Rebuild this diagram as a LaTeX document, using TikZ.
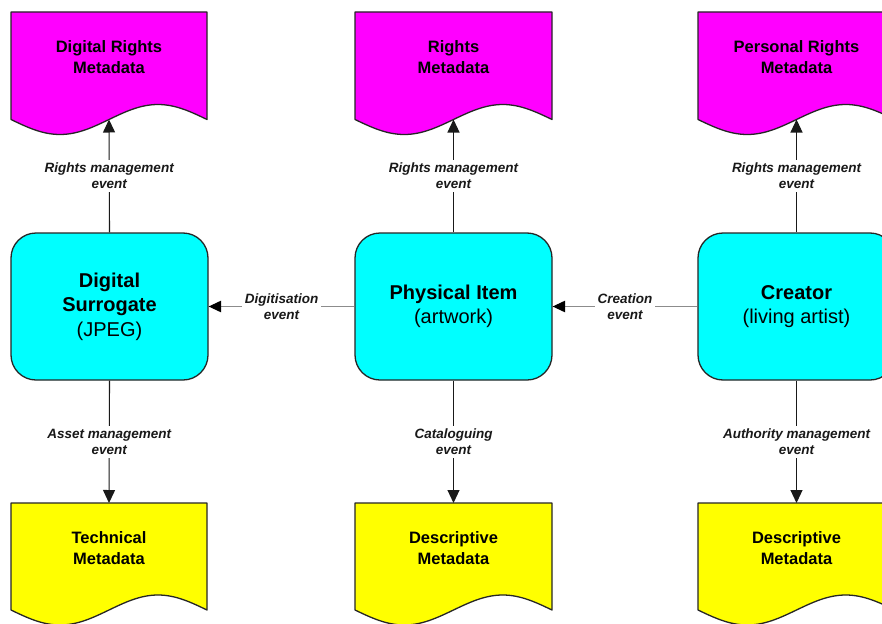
\documentclass[tikz,border=0pt]{standalone}
\usepackage{fontspec}
\setmainfont{Liberation Sans}
\usetikzlibrary{arrows.meta}
\definecolor{mag}{HTML}{FF00FF}
\definecolor{cyn}{HTML}{00FFFF}
\definecolor{yel}{HTML}{FFFF00}
\tikzset{
  docline/.style={draw=black!85, line width=1.3pt, line join=round},
  doctext/.style={font=\bfseries\fontsize{16.5}{21}\selectfont, align=center, text=black},
  cbox/.style={draw=black!85, line width=1.3pt, fill=cyn, rounded corners=25pt,
    minimum width=197pt, minimum height=147pt, align=center,
    font=\fontsize{20}{24.5}\selectfont, text=black},
  conn/.style={draw=black!90, line width=1.1pt, -{Triangle[length=13pt,width=12pt]}},
  hconn/.style={draw=black!45, line width=1.1pt, -{Triangle[length=12.5pt,width=11.5pt,color=black]}},
  lbl/.style={font=\bfseries\itshape\fontsize{13.5}{16}\selectfont, fill=white, inner sep=3pt,
    align=center, text=black!90},
}
% #1 x0, #2 width, #3 top, #4 wave base, #5 fill, #6 name
\newcommand{\docshape}[6]{%
  \filldraw[docline, fill=#5] (#1,#3) -- ({#1+0.5*#2},#3) coordinate (#6top) -- ({#1+#2},#3)
    -- ({#1+#2},#4) sin ({#1+0.75*#2},{#4-15}) cos ({#1+0.5*#2},#4) coordinate (#6)
    sin ({#1+0.25*#2},{#4+15}) cos (#1,#4) -- cycle;
}
\begin{document}
\begin{tikzpicture}[x=1pt,y=-1pt]
\useasboundingbox (0,0) rectangle (882,623);
\clip (0,0) rectangle (882,623);
\fill[white] (0,0) rectangle (882,623);

% top magenta documents
\docshape{11}{196}{12}{119.5}{mag}{mL}
\docshape{355}{197}{12}{119.5}{mag}{mM}
\docshape{698}{197}{12}{119.5}{mag}{mR}
\node[doctext] (mLt) at (109,57.5) {Digital Rights\\Metadata};
\node[doctext] (mMt) at (453.5,57.5) {Rights\\Metadata};
\node[doctext] (mRt) at (796.5,57.5) {Personal Rights\\Metadata};

% bottom yellow documents
\docshape{11}{196}{503}{610}{yel}{yL}
\docshape{355}{197}{503}{610}{yel}{yM}
\docshape{698}{197}{503}{610}{yel}{yR}
\node[doctext] (yLt) at (109,548) {Technical\\Metadata};
\node[doctext] (yMt) at (453.5,548) {Descriptive\\Metadata};
\node[doctext] (yRt) at (796.5,548) {Descriptive\\Metadata};

% cyan boxes
\node[cbox] (ds) at (109.5,306.5) {\textbf{Digital}\\\textbf{Surrogate}\\(JPEG)};
\node[cbox] (pi) at (453.5,306.5) {\textbf{Physical Item}\\(artwork)};
\node[cbox] (cr) at (796.5,306.5) {\textbf{Creator}\\(living artist)};

% vertical connectors
\draw[conn] (ds.north) -- node[lbl] {Rights management\\event} (mL);
\draw[conn] (pi.north) -- node[lbl] {Rights management\\event} (mM);
\draw[conn] (cr.north) -- node[lbl] {Rights management\\event} (mR);
\draw[conn] (ds.south) -- node[lbl] {Asset management\\event} (yLtop);
\draw[conn] (pi.south) -- node[lbl] {Cataloguing\\event} (yMtop);
\draw[conn] (cr.south) -- node[lbl] {Authority management\\event} (yRtop);

% horizontal connectors
\draw[hconn] (pi.west) -- node[lbl] {Digitisation\\event} (ds.east);
\draw[hconn] (cr.west) -- node[lbl] {Creation\\event} (pi.east);
\end{tikzpicture}
\end{document}
